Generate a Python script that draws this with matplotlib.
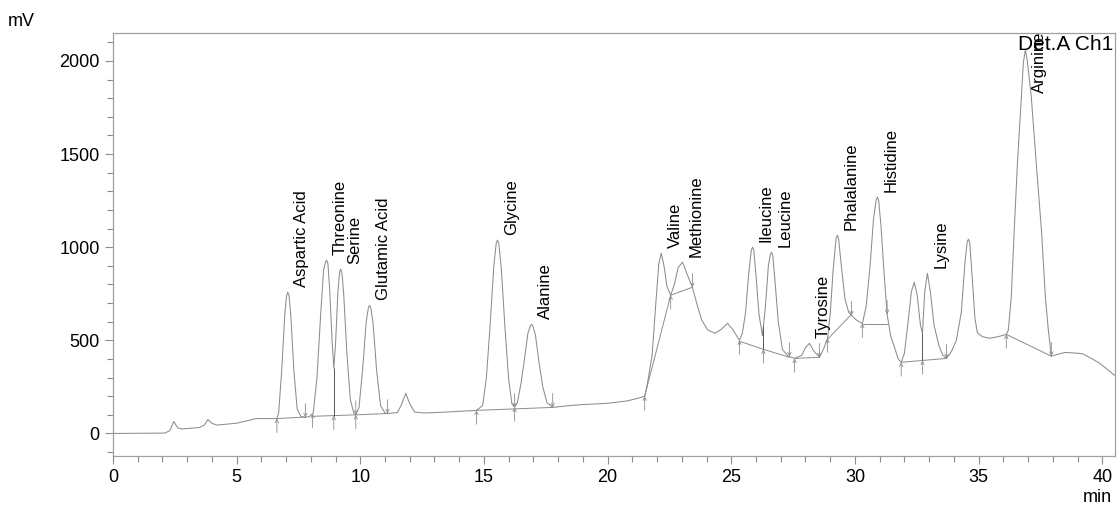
import numpy as np
import matplotlib
matplotlib.use("Agg")
import matplotlib.pyplot as plt

# detector trace, time in min / signal in mV
trace_t = [0.0, 2.1, 2.3, 2.46, 2.62, 2.8, 3.5, 3.7, 3.84, 4.0, 4.2, 5.0, 5.8, 6.63,
           6.7, 6.82, 6.95, 7.02, 7.07, 7.12, 7.19, 7.32, 7.45, 7.6, 7.78,
           7.95, 8.1, 8.25, 8.4, 8.52, 8.6, 8.64, 8.69, 8.76, 8.86, 8.93, 9.0, 9.1, 9.17, 9.21, 9.26,
           9.33, 9.46, 9.6, 9.75, 9.82,
           9.95, 10.1, 10.24, 10.33, 10.38, 10.43, 10.52, 10.66, 10.82, 11.0, 11.1,
           11.5, 11.65, 11.84, 12.0, 12.2, 12.6, 13.5, 14.7,
           14.95, 15.1, 15.25, 15.4, 15.5, 15.55, 15.6, 15.7, 15.85, 16.0, 16.13, 16.24,
           16.35, 16.5, 16.63, 16.78, 16.88, 16.93, 16.98, 17.08, 17.23, 17.38, 17.55, 17.78,
           18.5, 19.0, 20.0, 20.8, 21.2, 21.5,
           21.6, 21.8, 21.95, 22.07, 22.17, 22.28, 22.4, 22.55, 22.7, 22.85, 23.03, 23.2, 23.43,
           23.6, 23.8, 24.05, 24.35, 24.6, 24.85, 25.05, 25.33,
           25.45, 25.58, 25.7, 25.81, 25.86, 25.91, 26.0, 26.12, 26.26, 26.38, 26.5, 26.58, 26.63,
           26.68, 26.76, 26.9, 27.07,
           27.3, 27.56, 27.85, 28.0, 28.16, 28.35, 28.57,
           28.75, 28.89, 29.0, 29.12, 29.24, 29.29, 29.34, 29.45, 29.6, 29.75, 29.86, 30.05, 30.3,
           30.45, 30.6, 30.75, 30.86, 30.91, 30.96, 31.05, 31.18, 31.3, 31.45, 31.6, 31.75, 31.87,
           32.0, 32.15, 32.28, 32.4, 32.52, 32.65, 32.73, 32.82, 32.93, 33.05, 33.2, 33.4, 33.55, 33.7,
           33.9, 34.1, 34.3, 34.45, 34.54, 34.59, 34.64, 34.72, 34.85, 34.95, 35.15, 35.43, 35.8, 36.12,
           36.2, 36.32, 36.44, 36.57, 36.73, 36.81, 36.89, 36.97, 37.13, 37.33, 37.54, 37.7, 37.82, 37.94,
           38.2, 38.5, 38.9, 39.2, 39.6, 39.9, 40.5]
trace_mv = [0, 2, 15, 64, 30, 24, 32, 45, 75, 55, 45, 55, 80, 80,
            110, 330, 640, 740, 758, 740, 640, 330, 130, 92, 86,
            92, 110, 300, 640, 880, 922, 930, 915, 780, 500, 350, 480, 770, 870, 882, 860,
            750, 430, 180, 105, 100,
            140, 350, 600, 676, 688, 672, 590, 340, 150, 110, 107,
            112, 150, 215, 160, 115, 110, 115, 124,
            150, 300, 580, 900, 1025, 1038, 1020, 890, 570, 290, 160, 140,
            165, 270, 390, 540, 578, 586, 576, 530, 380, 250, 165, 140,
            150, 155, 162, 175, 188, 200,
            260, 420, 700, 910, 968, 900, 790, 742, 800, 890, 920, 860, 785,
            700, 610, 555, 538, 560, 591, 560, 500,
            540, 650, 850, 985, 1000, 985, 850, 640, 525, 680, 900, 962, 973,
            955, 830, 600, 450,
            415, 403, 420, 460, 484, 440, 409,
            460, 510, 640, 880, 1050, 1064, 1045, 900, 720, 650, 634, 610, 590,
            680, 880, 1150, 1255, 1269, 1250, 1120, 860, 640, 520, 462, 400, 382,
            430, 600, 760, 812, 740, 580, 537, 760, 860, 760, 580, 470, 420, 403,
            440, 500, 650, 920, 1030, 1043, 1025, 880, 620, 540, 520, 511, 520, 532,
            554, 731, 1091, 1452, 1806, 1990, 2060, 2000, 1806, 1452, 1091, 731, 554, 415,
            425, 435, 432, 428, 400, 376, 312]

# identified peaks: label, retention time (min), apex (mV)
peak_names = ["Aspartic Acid", "Threonine", "Serine", "Glutamic Acid", "Glycine",
              "Alanine", "Valine", "Methionine", "Ileucine", "Leucine", "Tyrosine",
              "Phalalanine", "Histidine", "Lysine", "Arginine"]
peak_times = [7.07, 8.64, 9.21, 10.38, 15.55, 16.93, 22.17, 23.03, 25.86, 26.63,
              28.16, 29.29, 30.91, 32.93, 36.89]
peak_heights = [758, 930, 882, 688, 1038, 586, 968, 920, 1000, 973, 484, 1064,
                1269, 860, 2060]

# integration baselines
baselines = [
    ([6.63, 7.78], [80, 88]),
    ([8.07, 9.82], [92, 100]),
    ([9.82, 11.1], [100, 107]),
    ([14.7, 17.78], [124, 140]),
    ([21.5, 22.55, 23.43], [200, 742, 785]),
    ([25.33, 26.3, 27.35], [495, 452, 409]),
    ([27.56, 28.57], [403, 409]),
    ([28.89, 29.86], [505, 640]),
    ([30.3, 31.3], [586, 586]),
    ([31.87, 33.7], [382, 403]),
    ([36.12, 37.94], [532, 415]),
]
drop_times = [8.93, 26.3, 32.73]
drop_bottoms = [96, 452, 392]
start_times = [6.63, 8.07, 9.82, 14.7, 16.24, 21.5, 22.55, 25.33, 27.56, 28.89,
               30.3, 31.87, 36.12]
end_times = [7.78, 9.82, 11.1, 16.24, 17.78, 23.43, 27.35, 28.57, 29.86, 31.3,
             33.7, 37.94]

plt.rcParams['font.family'] = ['Liberation Sans', 'DejaVu Sans']
gray = '#8c8c8c'

fig = plt.figure(figsize=(11.18, 5.08), dpi=100)
ax = fig.add_axes([0.101, 0.102, 0.896, 0.833])

ax.plot(trace_t, trace_mv, color=gray, lw=0.75)
for bt, bv in baselines:
    ax.plot(bt, bv, color=gray, lw=0.7)
for t, b in zip(drop_times, drop_bottoms):
    ax.vlines(t, b, np.interp(t, trace_t, trace_mv), color='#555555', lw=0.7)

arrow = dict(arrowstyle='->', color=gray, lw=0.6, shrinkA=0, shrinkB=0,
             mutation_scale=6)
for t in start_times + drop_times:
    y = np.interp(t, trace_t, trace_mv)
    if t in drop_times:
        y = drop_bottoms[drop_times.index(t)]
    ax.annotate("", xy=(t, y), xytext=(0, -10), textcoords='offset points',
                arrowprops=arrow)
for t in end_times:
    y = np.interp(t, trace_t, trace_mv)
    ax.annotate("", xy=(t, y), xytext=(0, 10), textcoords='offset points',
                arrowprops=arrow)

for name, t, h in zip(peak_names, peak_times, peak_heights):
    # the last label is pushed down to stay inside the frame
    dy = -31 if name == "Arginine" else 3.5
    ax.annotate(name, xy=(t, h), xytext=(10, dy), textcoords='offset points',
                rotation=90, ha='center', va='bottom', fontsize=12)

ax.set_xlim(0, 40.5)
ax.set_ylim(-122, 2150)
ax.set_xticks(range(0, 41, 5))
ax.set_xticks(range(0, 41), minor=True)
ax.set_yticks(range(0, 2001, 500))
ax.set_yticks(range(-100, 2101, 100), minor=True)
ax.tick_params(which='both', direction='out', color=gray, labelsize=13,
               width=0.8)
ax.tick_params(which='major', length=6)
ax.tick_params(which='minor', length=4)
for sp in ax.spines.values():
    sp.set_color('#a0a0a0')
    sp.set_linewidth(0.9)

ax.text(0.999, 0.995, "Det.A Ch1", transform=ax.transAxes, ha='right', va='top',
        fontsize=15)
fig.text(0.007, 1 - 21 / 508, "mV", ha='left', va='center', fontsize=13)
fig.text(0.995, 1 - 498 / 508, "min", ha='right', va='center', fontsize=13)

fig.savefig("out.png", dpi=100)
